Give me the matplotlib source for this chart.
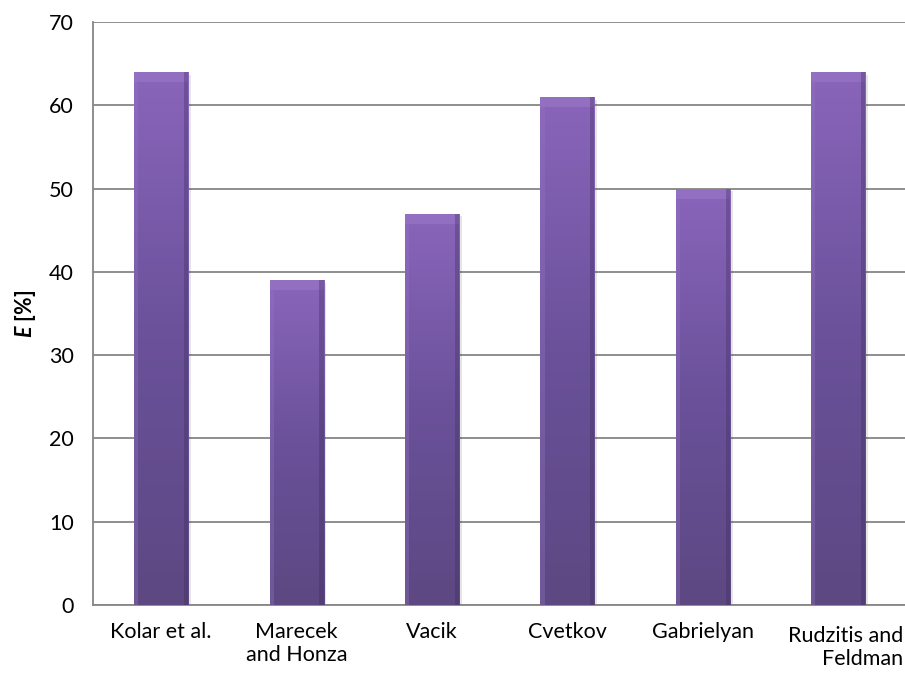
import numpy as np
import matplotlib
matplotlib.use("Agg")
import matplotlib.pyplot as plt
from matplotlib.colors import LinearSegmentedColormap

authors = ["Kolar et al.", "Marecek\nand Honza", "Vacik", "Cvetkov",
           "Gabrielyan", "Rudzitis and\nFeldman"]
efficiency = [64, 39, 47, 61, 50, 64]
y_ticks = [0, 10, 20, 30, 40, 50, 60, 70]

FS = 15.5


def main():
    plt.rcParams["font.family"] = ["Lato", "DejaVu Sans"]
    plt.rcParams["mathtext.fontset"] = "custom"
    plt.rcParams["mathtext.bfit"] = "Lato:bold:italic"

    fig = plt.figure(figsize=(9.05, 6.83), dpi=100)
    ax = fig.add_axes([0.1033, 0.1142, 0.8977, 0.8536])

    x = np.arange(len(authors))
    bars = ax.bar(x, efficiency, width=0.40, color="#7457a0", zorder=3,
                  edgecolor="none")

    # vertical gradient like the Excel bevel bars
    cmap = LinearSegmentedColormap.from_list(
        "purp", ["#5d4882", "#6a519a", "#8a65bb"])
    grad = np.linspace(0, 1, 256).reshape(-1, 1)
    for b in bars:
        x0, w, h = b.get_x(), b.get_width(), b.get_height()
        # soft shadow on the right / below
        ax.bar(x0 + w / 2 + 0.02, h, width=w, bottom=-0.35,
               color="#000000", alpha=0.10, zorder=2, edgecolor="none")
        im = ax.imshow(grad, extent=(x0, x0 + w, 0, h), origin="lower",
                       cmap=cmap, aspect="auto", zorder=3)
        im.set_clip_path(b)
        # bevel edges
        ax.bar(x0 + w / 2, 1.2, width=w, bottom=h - 1.2,
               color="#9a78c8", alpha=0.6, zorder=4, edgecolor="none")
        ax.bar(x0 + w * 0.04, h, width=w * 0.08, color="#9474c2",
               alpha=0.35, zorder=4, edgecolor="none")
        ax.bar(x0 + w * 0.96, h, width=w * 0.08, color="#3e2e5c",
               alpha=0.35, zorder=4, edgecolor="none")

    ax.set_xlim(-0.5, len(authors) - 0.5)
    ax.set_ylim(0, 70)
    ax.set_yticks(y_ticks)
    ax.set_xticks(x)
    ax.set_xticklabels(authors[:-1] + [""], fontsize=FS)
    ax.text(0.997, -0.036, authors[-1], transform=ax.transAxes,
            ha="right", va="top", fontsize=FS, multialignment="right")
    ax.tick_params(axis="y", labelsize=FS, length=0, pad=14)
    ax.tick_params(axis="x", length=0, pad=12)

    ax.yaxis.grid(True, color="#868686", linewidth=1.3, zorder=0)
    ax.set_axisbelow(True)
    for side in ["top", "right"]:
        ax.spines[side].set_visible(False)
    for side in ["left", "bottom"]:
        ax.spines[side].set_color("#868686")
        ax.spines[side].set_linewidth(1.3)

    ax.set_ylabel(r"$\mathbfit{E}$ [%]", fontsize=FS, fontweight="bold",
                  labelpad=8)

    fig.savefig("out.png", dpi=100)


if __name__ == "__main__":
    main()
